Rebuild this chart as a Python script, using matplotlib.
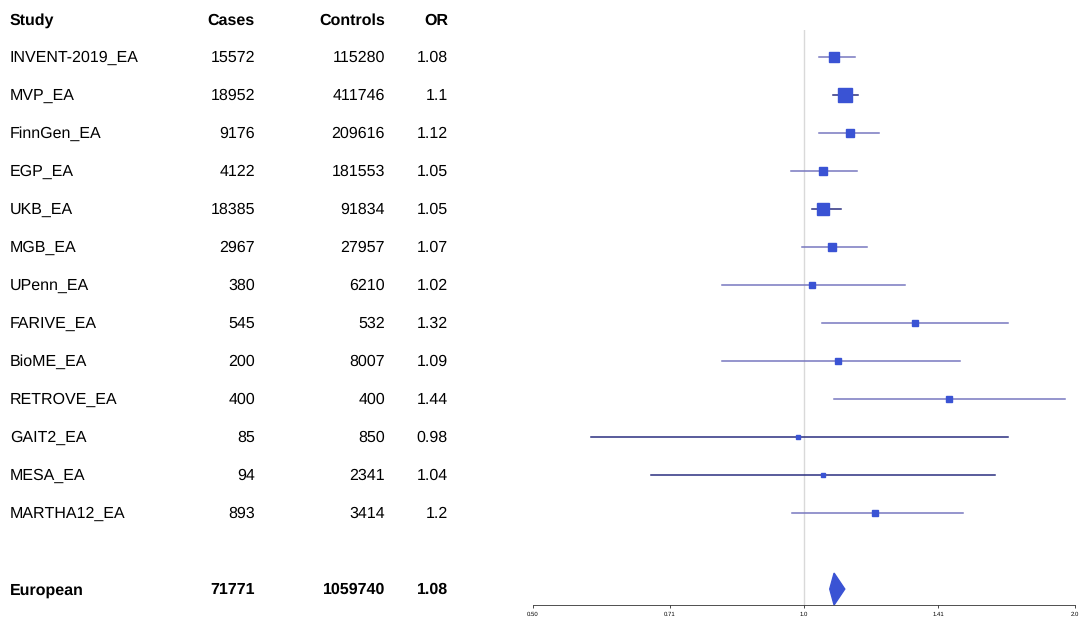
import matplotlib
matplotlib.use("Agg")
import matplotlib.pyplot as plt
import matplotlib.transforms as mtrans
import numpy as np

plt.rcParams["font.family"] = ["Liberation Sans", "DejaVu Sans"]
plt.rcParams["text.hinting"] = "no_hinting"
plt.rcParams["text.hinting_factor"] = 1

studies = ["INVENT-2019_EA","MVP_EA","FinnGen_EA","EGP_EA","UKB_EA","MGB_EA","UPenn_EA",
           "FARIVE_EA","BioME_EA","RETROVE_EA","GAIT2_EA","MESA_EA","MARTHA12_EA"]
cases = [15572,18952,9176,4122,18385,2967,380,545,200,400,85,94,893]
controls = [115280,411746,209616,181553,91834,27957,6210,532,8007,400,850,2341,3414]
or_lab = ["1.08","1.1","1.12","1.05","1.05","1.07","1.02","1.32","1.09","1.44","0.98","1.04","1.2"]
or_val = [1.08,1.11,1.125,1.05,1.05,1.075,1.02,1.33,1.09,1.45,0.985,1.05,1.20]
ci_lo = [1.04,1.077,1.04,0.967,1.02,0.995,0.81,1.047,0.81,1.08,0.58,0.676,0.97]
ci_hi = [1.14,1.148,1.21,1.145,1.10,1.175,1.295,1.685,1.49,1.95,1.685,1.63,1.50]
pooled = ("European", 71771, 1059740, "1.08", 1.08, 1.068, 1.11)
ticks = [0.50, 0.71, 1.0, 1.41, 2.0]
tick_labels = ["0.50", "0.71", "1.0", "1.41", "2.0"]

W, H = 1088, 630
fig = plt.figure(figsize=(W/100, H/100), dpi=100)
def fx(p): return p / W
ytop, ybot = 30, 605
ax = fig.add_axes([fx(533), 1 - ybot/H, fx(1075-533), (ybot-ytop)/H])
ax.set_xscale("log", base=2)
ax.set_xlim(0.5, 2.0)
ax.set_ylim(14.42, -0.71)
for s in ["top", "right", "left"]:
    ax.spines[s].set_visible(False)
ax.spines["bottom"].set_color("#333333")
ax.spines["bottom"].set_linewidth(0.6)
ax.set_yticks([])
ax.set_xticks(ticks)
ax.set_xticklabels(tick_labels, fontsize=4.5)
ax.minorticks_off()
ax.tick_params(axis="x", length=2.5, width=0.5, pad=2)
ax.axvline(1.0, color="#d9d9d9", lw=1, zorder=0)

widths = np.log(np.array(ci_hi)) - np.log(np.array(ci_lo))
wt = 1 / widths**2
sizes = 3.0 + 6.5 * np.sqrt(wt / wt.max())
dark = {"MVP_EA", "UKB_EA", "GAIT2_EA", "MESA_EA"}
for i, s in enumerate(studies):
    lc = "#2b2f80" if s in dark else "#7878c0"
    ax.plot([ci_lo[i], ci_hi[i]], [i, i], color=lc, lw=1.1, zorder=2)
    ax.plot(or_val[i], i, marker="s", ms=sizes[i], color="#3a53d4", mec="#3a53d4", zorder=3)

name, pc, pn, plab, pv, plo, phi = pooled
yi = len(studies) + 1
ax.fill([plo, pv, phi, pv], [yi, yi - 0.42, yi, yi + 0.42], color="#3a53d4", zorder=3)

tr = mtrans.blended_transform_factory(fig.transFigure, ax.transData)
fs = 11.5
dy = 0.03
fig.text(fx(10), 1 - 21/H, "Study", fontsize=fs, weight="bold", va="center")
fig.text(fx(255), 1 - 21/H, "Cases", fontsize=fs, weight="bold", va="center", ha="right")
fig.text(fx(385), 1 - 21/H, "Controls", fontsize=fs, weight="bold", va="center", ha="right")
fig.text(fx(448), 1 - 21/H, "OR", fontsize=fs, weight="bold", va="center", ha="right")
for i, s in enumerate(studies):
    ax.text(fx(10), i + dy, s, transform=tr, fontsize=fs, va="center", clip_on=False)
    ax.text(fx(255), i + dy, str(cases[i]), transform=tr, fontsize=fs, va="center", ha="right", clip_on=False)
    ax.text(fx(385), i + dy, str(controls[i]), transform=tr, fontsize=fs, va="center", ha="right", clip_on=False)
    ax.text(fx(448), i + dy, or_lab[i], transform=tr, fontsize=fs, va="center", ha="right", clip_on=False)
ax.text(fx(10), yi + dy, name, transform=tr, fontsize=fs, weight="bold", va="center", clip_on=False)
ax.text(fx(255), yi + dy, str(pc), transform=tr, fontsize=fs, weight="bold", va="center", ha="right", clip_on=False)
ax.text(fx(385), yi + dy, str(pn), transform=tr, fontsize=fs, weight="bold", va="center", ha="right", clip_on=False)
ax.text(fx(448), yi + dy, plab, transform=tr, fontsize=fs, weight="bold", va="center", ha="right", clip_on=False)

fig.savefig("out.png", dpi=100)
